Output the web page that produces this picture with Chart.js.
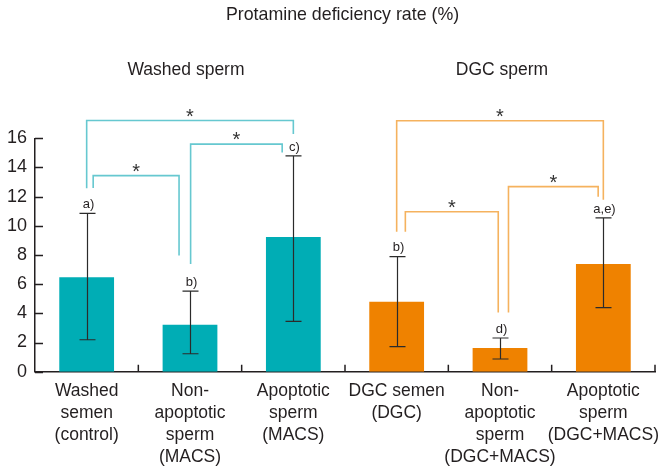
<!DOCTYPE html>
<html><head><meta charset="utf-8">
<script src="https://cdn.jsdelivr.net/npm/chart.js@4/dist/chart.umd.min.js"></script>
<style>html,body{margin:0;padding:0;background:#fff}#wrap{width:670px;height:470px}</style>
</head><body><div id="wrap"><canvas id="c" width="670" height="470"></canvas></div>
<script>
// ---- data ----
const categories = [
  ["Washed","semen","(control)"],
  ["Non-","apoptotic","sperm","(MACS)"],
  ["Apoptotic","sperm","(MACS)"],
  ["DGC semen","(DGC)"],
  ["Non-","apoptotic","sperm","(DGC+MACS)"],
  ["Apoptotic","sperm","(DGC+MACS)"]
];
const means   = [6.47, 3.22, 9.24, 4.80, 1.63, 7.39];
const errLow  = [2.19, 1.23, 3.45, 1.72, 0.87, 4.39];
const errHigh = [10.86, 5.53, 14.79, 7.89, 2.31, 10.54];
const letters = ['a)', 'b)', 'c)', 'b)', 'd)', 'a,e)'];
const chartTitle = 'Protamine deficiency rate (%)';
const groupNames = ['Washed sperm', 'DGC sperm'];
const groupOf = [0, 0, 0, 1, 1, 1];
const yMin = 0, yMax = 16, yStep = 2;
// significance brackets: category indices, bracket level and leg ends (in % units)
const sigFrom  = [0, 1, 0, 3, 4, 3];
const sigTo    = [1, 2, 2, 4, 5, 5];
const sigLevel = [13.44, 15.6, 17.22, 10.97, 12.69, 17.2];
const sigFromEnd = [12.6, 7.39, 12.58, 9.6, 4.05, 9.6];
const sigToEnd   = [7.96, 15.02, 16.3, 4.05, 12.0, 11.78];
const sigFromOff = [0.063, 0.006, 0, 0.084, 0.082, 0];
const sigToOff   = [-0.106, -0.108, 0, -0.017, -0.05, 0];

// ---- styles ----
const FONT = "'Liberation Sans', Arial, sans-serif";
const TEXT = '#231f20';
const barColors = ['#00adb5', '#ef8200'];
const bracketColors = ['#66c8d0', '#f5b25e'];

const overlay = {
  id: 'overlay',
  afterDatasetsDraw(chart) {
    const {ctx, scales: {x, y}, chartArea} = chart;
    const cw = (chartArea.right - chartArea.left) / categories.length;
    ctx.save();
    // error bars
    ctx.strokeStyle = '#2b2b2b';
    ctx.lineWidth = 1.2;
    means.forEach((m, i) => {
      const cx = Math.round(x.getPixelForValue(i)) + 0.5;
      const yt = y.getPixelForValue(errHigh[i]);
      const yb = y.getPixelForValue(errLow[i]);
      ctx.beginPath();
      ctx.moveTo(cx, yt); ctx.lineTo(cx, yb);
      ctx.moveTo(cx - 8, yt); ctx.lineTo(cx + 8, yt);
      ctx.moveTo(cx - 8, yb); ctx.lineTo(cx + 8, yb);
      ctx.stroke();
      ctx.fillStyle = TEXT;
      ctx.font = "13px " + FONT;
      ctx.textAlign = 'center';
      ctx.textBaseline = 'middle';
      ctx.fillText(letters[i], cx + 1, yt - 9);
    });
    // brackets
    ctx.lineWidth = 1.6;
    sigFrom.forEach((f, k) => {
      const t = sigTo[k];
      const col = bracketColors[groupOf[f]];
      const x1 = x.getPixelForValue(f) + sigFromOff[k] * cw;
      const x2 = x.getPixelForValue(t) + sigToOff[k] * cw;
      const yl = y.getPixelForValue(sigLevel[k]);
      ctx.strokeStyle = col;
      ctx.beginPath();
      ctx.moveTo(x1, y.getPixelForValue(sigFromEnd[k]));
      ctx.lineTo(x1, yl);
      ctx.lineTo(x2, yl);
      ctx.lineTo(x2, y.getPixelForValue(sigToEnd[k]));
      ctx.stroke();
      ctx.fillStyle = '#333';
      ctx.font = "20px " + FONT;
      ctx.textAlign = 'center';
      ctx.textBaseline = 'alphabetic';
      ctx.fillText('*', (x1 + x2) / 2, yl + 2);
    });
    // inward ticks
    ctx.strokeStyle = TEXT;
    ctx.lineWidth = 1.5;
    ctx.beginPath();
    y.ticks.forEach(tk => {
      const py = Math.round(y.getPixelForValue(tk.value)) + 0.5;
      ctx.moveTo(chartArea.left, py); ctx.lineTo(chartArea.left + 8, py);
    });
    for (let k = 1; k <= categories.length; k++) {
      const px = chartArea.left + k * cw;
      ctx.moveTo(px, chartArea.bottom); ctx.lineTo(px, chartArea.bottom - 7);
    }
    ctx.stroke();
    // title and group headings
    ctx.fillStyle = TEXT;
    ctx.textAlign = 'center';
    ctx.textBaseline = 'middle';
    ctx.font = "17.8px " + FONT;
    ctx.fillText(chartTitle, (chartArea.left + chartArea.right) / 2 - 2.5, 15);
    ctx.font = "17.5px " + FONT;
    groupNames.forEach((g, gi) => {
      const idx = groupOf.indexOf(gi) + 1;
      ctx.fillText(g, x.getPixelForValue(idx) + (gi === 0 ? -4 : 2), 70);
    });
    ctx.restore();
  }
};

new Chart(document.getElementById('c'), {
  type: 'bar',
  data: {
    labels: categories,
    datasets: [{
      data: means,
      backgroundColor: means.map((v, i) => barColors[groupOf[i]]),
      borderWidth: 0,
      barPercentage: 0.53,
      categoryPercentage: 1
    }]
  },
  options: {
    responsive: false,
    animation: false,
    devicePixelRatio: 1,
    layout: {padding: {left: 0, right: 15, top: 138.3, bottom: 0}},
    plugins: {
      legend: {display: false},
      tooltip: {enabled: false},
      title: {display: false}
    },
    scales: {
      x: {
        grid: {display: false, drawTicks: false},
        border: {display: true, color: TEXT, width: 1.5},
        ticks: {
          color: TEXT, padding: 9, maxRotation: 0, autoSkip: false,
          font: {family: FONT, size: 17.5, lineHeight: 1.25}
        },
        afterFit(s) { s.height = 98.3; }
      },
      y: {
        min: yMin, max: yMax,
        grid: {display: false, drawTicks: false},
        border: {display: true, color: TEXT, width: 1.5},
        ticks: {
          stepSize: yStep, color: TEXT, padding: 8,
          font: {family: FONT, size: 18}
        },
        afterFit(s) { s.width = 35; }
      }
    }
  },
  plugins: [overlay]
});
</script>
</body></html>
